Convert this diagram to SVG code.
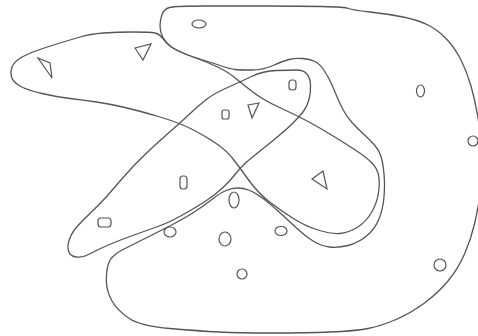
<svg xmlns="http://www.w3.org/2000/svg" width="478" height="336" viewBox="0 0 478 336">
<style>
.c{fill:none;stroke:#555;stroke-width:1.3;stroke-linejoin:round}
.s{fill:none;stroke:#555;stroke-width:1.2}
</style>
<rect width="478" height="336" fill="#fff"/>
<g id="curve-c"><path class="c" d="M160,26 Q160,20 162,14.5 Q164,9 169.5,7.5 Q175,6 206.5,6 Q238,6 269,6 Q300,6 322.5,6.5 Q345,7 348.5,8.5 Q352,10 370,12 Q388,14 403,17 Q418,20 428,25 Q438,30 446.5,39 Q455,48 461,60 Q467,72 471,86 Q475,100 477.5,115 Q480,130 482,149 Q484,168 481,188.5 Q478,209 474.5,224 Q471,239 464.5,254 Q458,269 448,281 Q438,293 424.5,303 Q411,313 396,319.5 Q381,326 368,328.5 Q355,331 330,332 Q305,333 271.5,333 Q238,333 219,332 Q200,331 170,328.5 Q140,326 128.5,318 Q117,310 112,301 Q107,292 106.5,283 Q106,274 107.5,267 Q109,260 113.5,256 Q118,252 123,249.5 Q128,247 145,238.5 Q162,230 173.5,224 Q185,218 195,211.5 Q205,205 212.5,199 Q220,193 226,190.5 Q232,188 237.5,188 Q243,188 248.5,190 Q254,192 261,197 Q268,202 278,211 Q288,220 296.5,228 Q305,236 313,241 Q321,246 329.5,247 Q338,248 348,245.5 Q358,243 366.5,236 Q375,229 379,219 Q383,209 384,197 Q385,185 384,174 Q383,163 381,156.5 Q379,150 374.5,145 Q370,140 363.5,134 Q357,128 352,122.5 Q347,117 343.5,110.5 Q340,104 337.5,98 Q335,92 332,85 Q329,78 324.5,71 Q320,64 315,61.5 Q310,59 302.5,58.5 Q295,58 289,59.5 Q283,61 273,65.5 Q263,70 251.5,70 Q240,70 235,69.5 Q230,69 221.5,66 Q213,63 203,60 Q193,57 185,54 Q177,51 171.5,47 Q166,43 163,37.5 Q160,32 160,26 Z"/></g>
<g id="curve-a"><path class="c" d="M11.5,77 Q10,72 12,67 Q14,62 20.5,58 Q27,54 38.5,50 Q50,46 60,43 Q70,40 80,37 Q90,34 103.5,33 Q117,32 133.5,32 Q150,32 155,33 Q160,34 164,40 Q168,46 177.5,50.5 Q187,55 197,58.5 Q207,62 217.5,67 Q228,72 234,77 Q240,82 251.5,91 Q263,100 280.5,108 Q298,116 309,122 Q320,128 331.5,135 Q343,142 354.5,149.5 Q366,157 371.5,162.5 Q377,168 378.5,175 Q380,182 378.5,192.5 Q377,203 371.5,212.5 Q366,222 357,227.5 Q348,233 339.5,233.5 Q331,234 318,230 Q305,226 292.5,218 Q280,210 269,201.5 Q258,193 249,180.5 Q240,168 233.5,159.5 Q227,151 217,144 Q207,137 193.5,130 Q180,123 160,117 Q140,111 125,107.5 Q110,104 96.5,102 Q83,100 70,98.5 Q57,97 42,93.5 Q27,90 20,86 Q13,82 11.5,77 Z"/></g>
<g id="curve-b"><path class="c" d="M68.5,251 Q67,246 69.5,239 Q72,232 78.5,225 Q85,218 92.5,211 Q100,204 107.5,195.5 Q115,187 124,176.5 Q133,166 145,154.5 Q157,143 168.5,133 Q180,123 188.5,115 Q197,107 205,100.5 Q213,94 226.5,88 Q240,82 251.5,76.5 Q263,71 276.5,70.5 Q290,70 296.5,70 Q303,70 306.5,73.5 Q310,77 310.5,84.5 Q311,92 309,99.5 Q307,107 303,112 Q299,117 293,123 Q287,129 278.5,136 Q270,143 260,151 Q250,159 245,163.5 Q240,168 235,174.5 Q230,181 222.5,188 Q215,195 205,201.5 Q195,208 181.5,215.5 Q168,223 156.5,227 Q145,231 130,236.5 Q115,242 105,246.5 Q95,251 88.5,254.5 Q82,258 76,257 Q70,256 68.5,251 Z"/></g>
<g id="items">
<polygon id="t1" class="s" points="38,58 50,63 52,78"/>
<polygon id="t2" class="s" points="135,48 151,44 143,60"/>
<ellipse id="o1" class="s" cx="199" cy="24" rx="7" ry="4"/>
<rect id="r1" class="s" x="222" y="110" width="7" height="9" rx="2"/>
<polygon id="t3" class="s" points="248,105 259,103 252,118"/>
<rect id="r2" class="s" x="289" y="80" width="7" height="10" rx="3"/>
<ellipse id="o2" class="s" cx="420.5" cy="91" rx="4" ry="6"/>
<circle id="o3" class="s" cx="473" cy="141" r="5"/>
<rect id="r3" class="s" x="180" y="176" width="7" height="13" rx="3"/>
<rect id="r4" class="s" x="98" y="218" width="13" height="9" rx="3"/>
<polygon id="t4" class="s" points="312,179 323,171 327,189"/>
<ellipse id="o4" class="s" cx="234" cy="200" rx="5" ry="8"/>
<ellipse id="o5" class="s" cx="170" cy="232" rx="6" ry="5"/>
<ellipse id="o6" class="s" cx="225" cy="239" rx="6" ry="7"/>
<ellipse id="o7" class="s" cx="281" cy="231" rx="6" ry="4.5"/>
<circle id="o8" class="s" cx="242" cy="274" r="5"/>
<circle id="o9" class="s" cx="440" cy="265" r="6"/>
</g>
</svg>
